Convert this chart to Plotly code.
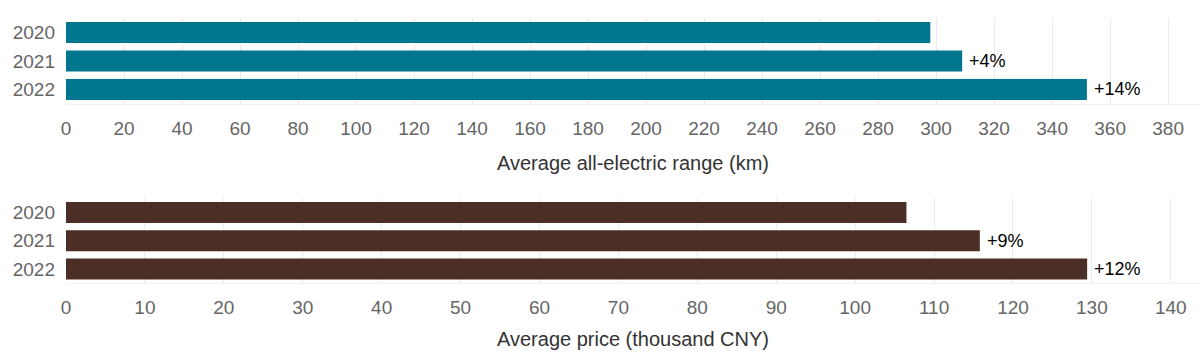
import plotly.graph_objects as go

years = ["2020", "2021", "2022"]
range_km = [298, 309, 352]
range_labels = ["", "+4%", "+14%"]
price_kcny = [106.5, 115.8, 129.4]
price_labels = ["", "+9%", "+12%"]

range_ticks = list(range(0, 381, 20))
price_ticks = list(range(0, 141, 10))

TEAL = "#00778F"
BROWN = "#4B2F27"
FONT = "Liberation Sans, Arial, sans-serif"

pos = list(range(len(years)))

fig = go.Figure()
fig.add_trace(go.Bar(y=pos, x=range_km, orientation="h", width=0.74,
                     marker=dict(color=TEAL, line=dict(width=0)),
                     xaxis="x", yaxis="y", hovertext=years, hoverinfo="x+text"))
fig.add_trace(go.Bar(y=pos, x=price_kcny, orientation="h", width=0.74,
                     marker=dict(color=BROWN, line=dict(width=0)),
                     xaxis="x2", yaxis="y2", hovertext=years, hoverinfo="x+text"))

annotations = []
for yv, xv, t in zip(pos, range_km, range_labels):
    if t:
        annotations.append(dict(x=xv, y=yv, xref="x", yref="y", text=t, showarrow=False,
                                xanchor="left", xshift=5, font=dict(size=18, color="#000", family=FONT)))
for yv, xv, t in zip(pos, price_kcny, price_labels):
    if t:
        annotations.append(dict(x=xv, y=yv, xref="x2", yref="y2", text=t, showarrow=False,
                                xanchor="left", xshift=5, font=dict(size=18, color="#000", family=FONT)))

xcommon = dict(showgrid=True, gridcolor="#EBEBEB", gridwidth=1, zeroline=False,
               showline=True, linecolor="#F2F2F2", linewidth=1, automargin=False,
               tickfont=dict(size=19, color="#666666", family=FONT),
               ticks="", ticklabelstandoff=7, domain=[66/1200, 1.0])
ycommon = dict(range=[2.5, -0.5], tickvals=pos, ticktext=years,
               showgrid=False, zeroline=False, showline=False,
               tickfont=dict(size=19, color="#666666", family=FONT), ticks="",
               ticklabelstandoff=10, automargin=False)

fig.update_layout(
    width=1200, height=362,
    margin=dict(l=0, r=0, t=0, b=0),
    paper_bgcolor="white", plot_bgcolor="white",
    showlegend=False,
    font=dict(family=FONT),
    xaxis=dict(**xcommon, anchor="y", range=[0, 391], tickvals=range_ticks,
               title=dict(text="Average all-electric range (km)", standoff=18,
                          font=dict(size=20, color="#333333", family=FONT))),
    yaxis=dict(**ycommon, anchor="x", domain=[0.7134, 0.9496]),
    xaxis2=dict(**xcommon, anchor="y2", range=[0, 143.7], tickvals=price_ticks,
                title=dict(text="Average price (thousand CNY)", standoff=15,
                           font=dict(size=20, color="#333333", family=FONT))),
    yaxis2=dict(**ycommon, anchor="x2", domain=[0.218, 0.452]),
    annotations=annotations,
)

fig.write_html("out.html", config={"displayModeBar": False},
               post_script="document.body.style.margin='0';")
